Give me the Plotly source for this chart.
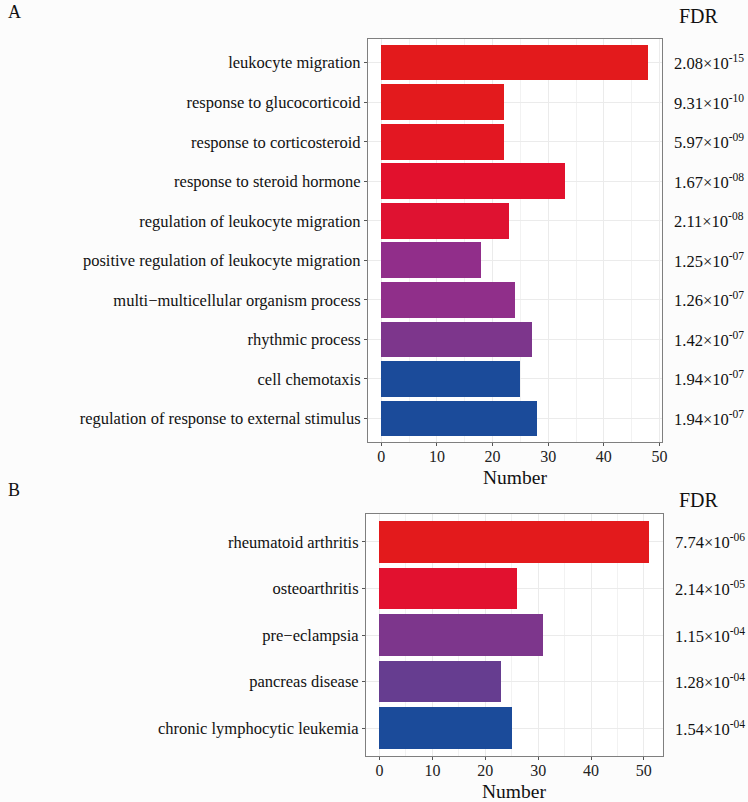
import plotly.graph_objects as go

# Panel A data
terms_a = ["leukocyte migration", "response to glucocorticoid", "response to corticosteroid",
           "response to steroid hormone", "regulation of leukocyte migration",
           "positive regulation of leukocyte migration", "multi\u2212multicellular organism process",
           "rhythmic process", "cell chemotaxis", "regulation of response to external stimulus"]
counts_a = [48, 22, 22, 33, 23, 18, 24, 27, 25, 28]
fdr_a = [2.08e-15, 9.31e-10, 5.97e-09, 1.67e-08, 2.11e-08, 1.25e-07, 1.26e-07, 1.42e-07, 1.94e-07, 1.94e-07]

# Panel B data
terms_b = ["rheumatoid arthritis", "osteoarthritis", "pre\u2212eclampsia", "pancreas disease",
           "chronic lymphocytic leukemia"]
counts_b = [51, 26, 31, 23, 25]
fdr_b = [7.74e-06, 2.14e-05, 1.15e-04, 1.28e-04, 1.54e-04]

x_ticks = [0, 10, 20, 30, 40, 50]

FONT = "Liberation Serif, Times New Roman, serif"
colorscale = [[0.0, "#E31A1C"], [0.09, "#E2112E"], [0.64, "#922E8A"],
              [0.73, "#7E368C"], [0.82, "#673D90"], [1.0, "#1B4B9A"]]

W, H = 748, 802


def fmt(v):
    m, e = f"{v:.2e}".split("e")
    sign = "-" if e.startswith("-") else ""
    return f"{m}\u00d710<sup>{sign}{abs(int(e)):02d}</sup>"


fig = go.Figure()
for terms, counts, fdr, xa, ya in [(terms_a, counts_a, fdr_a, "x", "y"),
                                   (terms_b, counts_b, fdr_b, "x2", "y2")]:
    fig.add_trace(go.Bar(
        x=counts, y=list(range(len(terms))), orientation="h", width=0.9,
        marker=dict(color=fdr, colorscale=colorscale, cmin=min(fdr), cmax=max(fdr),
                    showscale=False, line=dict(width=0)),
        xaxis=xa, yaxis=ya, hoverinfo="x+y", showlegend=False))

annotations = []
for terms, fdr, xa, ya in [(terms_a, fdr_a, "x", "y"), (terms_b, fdr_b, "x2", "y2")]:
    for i, v in enumerate(fdr):
        annotations.append(dict(x=1.035, xref=f"{xa} domain", y=i, yref=ya, text=fmt(v),
                                showarrow=False, xanchor="left", yanchor="middle",
                                font=dict(family=FONT, size=16.5, color="#111111")))

for lbl, px, py in [("A", 6, 12), ("B", 6, 490)]:
    annotations.append(dict(x=px / W, y=1 - py / H, xref="paper", yref="paper", text=lbl,
                            showarrow=False, xanchor="left", yanchor="middle",
                            font=dict(family=FONT, size=18, color="#111111")))
for py in [16, 500]:
    annotations.append(dict(x=705 / W, y=1 - py / H, xref="paper", yref="paper", text="FDR",
                            showarrow=False, xanchor="center", yanchor="middle",
                            font=dict(family=FONT, size=20, color="#111111")))
# axis titles placed as annotations for tight spacing
for xa, py in [("x", 477), ("x2", 791)]:
    annotations.append(dict(x=0.5, xref=f"{xa} domain", y=1 - py / H, yref="paper",
                            text="Number", showarrow=False, xanchor="center", yanchor="middle",
                            font=dict(family=FONT, size=19.5, color="#111111")))

xaxis_common = dict(
    tickvals=x_ticks, ticks="outside", ticklen=3, tickcolor="#555555",
    ticklabelstandoff=-3,
    showgrid=True, gridcolor="#EBEBEB", gridwidth=1,
    minor=dict(dtick=5, tick0=0, showgrid=True, gridcolor="#F2F2F2", gridwidth=1),
    showline=True, linecolor="#7F7F7F", linewidth=1.2, mirror=True, zeroline=False,
    tickfont=dict(family=FONT, size=16, color="#222222"),
)
yaxis_common = dict(
    ticks="outside", ticklen=3, tickcolor="#555555",
    showgrid=True, gridcolor="#EBEBEB", gridwidth=1,
    showline=True, linecolor="#7F7F7F", linewidth=1.2, mirror=True, zeroline=False,
    tickfont=dict(family=FONT, size=16.5, color="#111111"),
)

fig.update_layout(
    width=W, height=H,
    margin=dict(l=0, r=0, t=0, b=0),
    paper_bgcolor="#FCFCFC", plot_bgcolor="white",
    bargap=0,
    xaxis=dict(**xaxis_common, domain=[371 / W, 667 / W], anchor="y",
               range=[-0.05 * max(counts_a), 1.05 * max(counts_a)]),
    yaxis=dict(**yaxis_common, domain=[1 - 442 / H, 1 - 39 / H], anchor="x",
               tickvals=list(range(len(terms_a))), ticktext=terms_a,
               range=[len(terms_a) - 0.4, -0.6]),
    xaxis2=dict(**xaxis_common, domain=[369 / W, 668 / W], anchor="y2",
                range=[-0.05 * max(counts_b), 1.05 * max(counts_b)]),
    yaxis2=dict(**yaxis_common, domain=[1 - 756 / H, 1 - 514 / H], anchor="x2",
                tickvals=list(range(len(terms_b))), ticktext=terms_b,
                range=[len(terms_b) - 0.4, -0.6]),
    annotations=annotations,
)

fig.write_html("out.html", config={"displayModeBar": False},
               post_script="document.body.style.margin='0';document.body.style.overflow='hidden';")
